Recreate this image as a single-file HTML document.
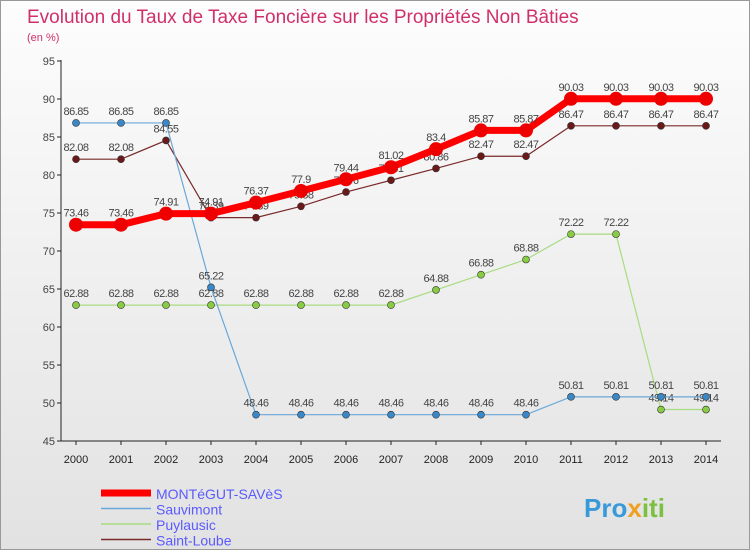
<!DOCTYPE html>
<html><head><meta charset="utf-8"><style>
body{margin:0;width:750px;height:550px;overflow:hidden;font-family:"Liberation Sans",sans-serif}
#wrap{position:absolute;left:0;top:0;width:748px;height:548px;border:1px solid #999;background:linear-gradient(#fdfdfd,#e2e2e2)}
</style></head><body>
<div id="wrap">
<svg id="chart" width="750" height="550" style="position:absolute;left:0;top:0">
<text x="26" y="22" font-size="19" fill="#d0306a">Evolution du Taux de Taxe Foncière sur les Propriétés Non Bâties</text>
<text x="26" y="40" font-size="11" fill="#d0306a">(en %)</text>
<g id="axes"></g><g id="series"></g><g id="legend"></g>
<text x="583" y="516" font-size="26" font-weight="bold" fill="#3a9ad9">Pro<tspan fill="#f0a020">x</tspan><tspan fill="#7cc040">iti</tspan></text>
</svg></div>
<script>
const years=[2000,2001,2002,2003,2004,2005,2006,2007,2008,2009,2010,2011,2012,2013,2014];
const yTicks=[45,50,55,60,65,70,75,80,85,90,95];
const montegut=[73.46,73.46,74.91,74.91,76.37,77.9,79.44,81.02,83.4,85.87,85.87,90.03,90.03,90.03,90.03];
const sauvimont=[86.85,86.85,86.85,65.22,48.46,48.46,48.46,48.46,48.46,48.46,48.46,50.81,50.81,50.81,50.81];
const puylausic=[62.88,62.88,62.88,62.88,62.88,62.88,62.88,62.88,64.88,66.88,68.88,72.22,72.22,49.14,49.14];
const saintLoube=[82.08,82.08,84.55,74.39,74.39,75.88,77.76,79.31,80.86,82.47,82.47,86.47,86.47,86.47,86.47];
const names=["MONTéGUT-SAVèS","Sauvimont","Puylausic","Saint-Loube"];
const NS="http://www.w3.org/2000/svg";
const X=y=>75+(y-2000)*45, Y=v=>440-(v-45)*7.6;
function mk(t,a,p){const e=document.createElementNS(NS,t);for(const k in a)e.setAttribute(k,a[k]);p.appendChild(e);return e;}
const ax=document.getElementById('axes');
let e=mk('line',{x1:60,y1:59,x2:60,y2:440,stroke:'#222'},ax);

e=mk('line',{x1:60,y1:440,x2:720,y2:440,stroke:'#222'},ax);

yTicks.forEach(v=>{mk('line',{x1:56,x2:60,y1:Y(v),y2:Y(v),stroke:'#222'},ax);
 const t=mk('text',{x:54,y:Y(v)+4,'font-size':11,fill:'#444','text-anchor':'end'},ax);t.textContent=v;
 });
years.forEach(y=>{mk('line',{x1:X(y),x2:X(y),y1:440,y2:444,stroke:'#222'},ax);
 const t=mk('text',{x:X(y),y:462,'font-size':11,fill:'#222','text-anchor':'middle'},ax);t.textContent=y;
 });
const sg=document.getElementById('series');
const defs=[[saintLoube,'#7a2a2a','#6a1818',1.2,3.5,'saint-loube'],[puylausic,'#a8dc80','#88cc44',1.2,3.5,'puylausic'],[sauvimont,'#6aa8d8','#3a88c8',1.2,3.5,'sauvimont'],[montegut,'#ff0000','#ee0000',7,7,'montegut-saves']];
defs.forEach(([d,lc,pc,w,r,n])=>{
 const l=mk('polyline',{points:d.map((v,i)=>X(years[i])+','+Y(v)).join(' '),fill:'none',stroke:lc,'stroke-width':w},sg);
 
 d.forEach((v,i)=>{const c=mk('circle',{cx:X(years[i]),cy:Y(v),r:r,fill:pc,stroke:'#333','stroke-width':r>5?0:0.6},sg);
  
  const t=mk('text',{x:X(years[i]),y:Y(v)-8,'font-size':11,fill:'#444','text-anchor':'middle','letter-spacing':'-0.5'},sg);
  t.textContent=String(v).replace(/(\.\d)$/,'$1');
  });
});
const lg=document.getElementById('legend');
const lcol=['#ff0000','#6aa8d8','#a8dc80','#7a2a2a'],lw=[7,1.5,1.5,1.5];
names.forEach((n,i)=>{const y=492+i*15.5;
 const l=mk('line',{x1:100,x2:150,y1:y,y2:y,stroke:lcol[i],'stroke-width':lw[i]},lg);
 
 const t=mk('text',{x:155,y:y+6,'font-size':14,fill:'#5a5aff'},lg);t.textContent=n;
 });
</script></body></html>
